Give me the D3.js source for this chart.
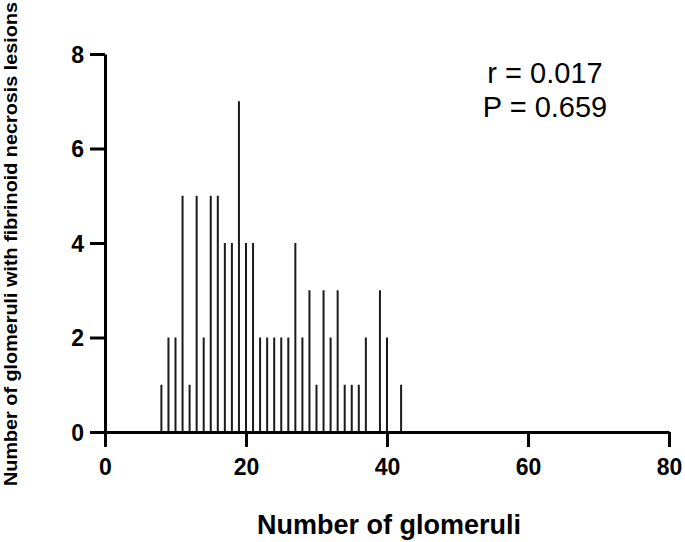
<!DOCTYPE html>
<html>
<head>
    <meta charset="utf-8">
    <script src="https://d3js.org/d3.v7.min.js"></script>
    <style>
        body { margin: 0; background: #fff; }
        svg { display: block; font-family: 'Liberation Sans', Arial, sans-serif; }
    </style>
</head>
<body>
    <svg width="685" height="542"></svg>
    <script>
        // glomeruli count (x) and lesion count (y) for each spike
        var glomeruli = [8, 9, 10, 11, 12, 13, 14, 15, 16, 17, 18, 19, 20, 21, 22, 23, 24,
                         25, 26, 27, 28, 29, 30, 31, 32, 33, 34, 35, 36, 37, 39, 40, 42];
        var lesions   = [1, 2, 2, 5, 1, 5, 2, 5, 5, 4, 4, 7, 4, 4, 2, 2, 2,
                         2, 2, 4, 2, 3, 1, 3, 2, 3, 1, 1, 1, 2, 3, 2, 1];
        var xTicks = [0, 20, 40, 60, 80];
        var yTicks = [0, 2, 4, 6, 8];
        var stats = ["r = 0.017", "P = 0.659"];

        var svg = d3.select("svg");

        var x = d3.scaleLinear().domain([0, 80]).range([105, 669]);
        var y = d3.scaleLinear().domain([0, 8]).range([432, 54]);

        var data = glomeruli.map(function (g, i) { return { g: g, v: lesions[i] }; });

        // spikes
        svg.append("g")
            .selectAll("line")
            .data(data)
            .enter().append("line")
            .attr("x1", d => x(d.g))
            .attr("x2", d => x(d.g))
            .attr("y1", y(0))
            .attr("y2", d => y(d.v))
            .attr("stroke", "#1a1a1a")
            .attr("stroke-width", 2);

        // x axis
        var xAxis = svg.append("g")
            .attr("transform", "translate(0," + y(0) + ")")
            .call(d3.axisBottom(x).tickValues(xTicks).tickSize(15).tickPadding(10).tickSizeOuter(0));

        // y axis
        var yAxis = svg.append("g")
            .attr("transform", "translate(" + x(0) + ",0)")
            .call(d3.axisLeft(y).tickValues(yTicks).tickSize(15).tickPadding(6).tickSizeOuter(0));

        [xAxis, yAxis].forEach(function (a) {
            a.select(".domain").attr("stroke", "#000").attr("stroke-width", 3);
            a.selectAll(".tick line").attr("stroke", "#000").attr("stroke-width", 3);
            a.selectAll(".tick text")
                .attr("fill", "#000")
                .style("font-size", "23px")
                .style("font-weight", "bold")
                .style("font-family", "'Liberation Sans', Arial, sans-serif");
        });
        xAxis.selectAll(".tick text").attr("dy", null).attr("y", 43);
        yAxis.selectAll(".tick text").attr("dy", "0.36em");

        // axis titles
        svg.append("text")
            .attr("x", 389)
            .attr("y", 534)
            .attr("text-anchor", "middle")
            .style("font-size", "27px")
            .style("font-weight", "bold")
            .text("Number of glomeruli");

        svg.append("text")
            .attr("transform", "translate(17,244) rotate(-90)")
            .attr("text-anchor", "middle")
            .attr("textLength", 484)
            .attr("lengthAdjust", "spacingAndGlyphs")
            .style("font-size", "18px")
            .style("font-weight", "bold")
            .text("Number of glomeruli with fibrinoid necrosis lesions");

        // correlation stats
        svg.append("g")
            .selectAll("text")
            .data(stats)
            .enter().append("text")
            .attr("x", 545)
            .attr("y", (d, i) => 83 + i * 34)
            .attr("text-anchor", "middle")
            .style("font-size", "29px")
            .text(d => d);
    </script>
</body>
</html>
